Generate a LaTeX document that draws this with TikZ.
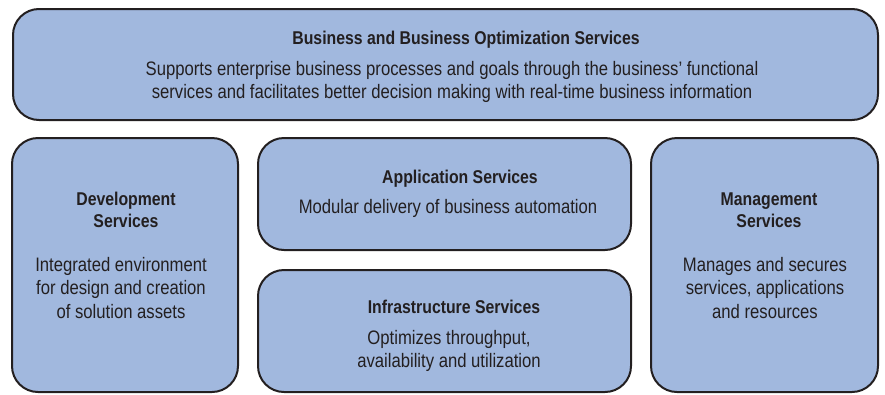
\documentclass[tikz,border=0pt]{standalone}
\usepackage{fontspec}
\setmainfont[FakeStretch=0.855]{Liberation Sans}
\definecolor{boxfill}{RGB}{161,184,222}
\definecolor{boxline}{RGB}{35,31,32}
\definecolor{txt}{RGB}{35,31,32}
\begin{document}
\begin{tikzpicture}[x=1pt,y=-1pt,
  svcbox/.style={draw=boxline,line width=2pt,fill=boxfill,rounded corners=26pt},
  ttl/.style={font=\fontsize{18.5}{22.5}\selectfont\bfseries,text=txt,align=center,inner sep=0pt},
  body/.style={font=\fontsize{19.5}{23.5}\selectfont,text=txt,align=center,inner sep=0pt}]
\useasboundingbox (0,0) rectangle (885,394);
% boxes
\draw[svcbox] (13,9) rectangle (878,120);
\draw[svcbox] (12,138) rectangle (238,392);
\draw[svcbox] (258,138) rectangle (631,250);
\draw[svcbox] (258,270) rectangle (631,392);
\draw[svcbox] (651,138) rectangle (878,392);
% texts
\node[ttl] (bt) at (466,40) {Business and Business Optimization Services};
\node[body] (bb) at (452,82) {Supports enterprise business processes and goals through the business’ functional\\services and facilitates better decision making with real-time business information};
\node[ttl] (dt) at (126,210) {Development\\Services};
\node[body] (db) at (121,288) {Integrated environment\\for design and creation\\of solution assets};
\node[ttl] (at) at (460,179) {Application Services};
\node[body] (ab) at (448,208) {Modular delivery of business automation};
\node[ttl] (it) at (454,307) {Infrastructure Services};
\node[body] (ib) at (449,351) {Optimizes throughput,\\availability and utilization};
\node[ttl] (mt) at (769,210) {Management\\Services};
\node[body] (mb) at (765,288) {Manages and secures\\services, applications\\and resources};
\end{tikzpicture}
\end{document}
